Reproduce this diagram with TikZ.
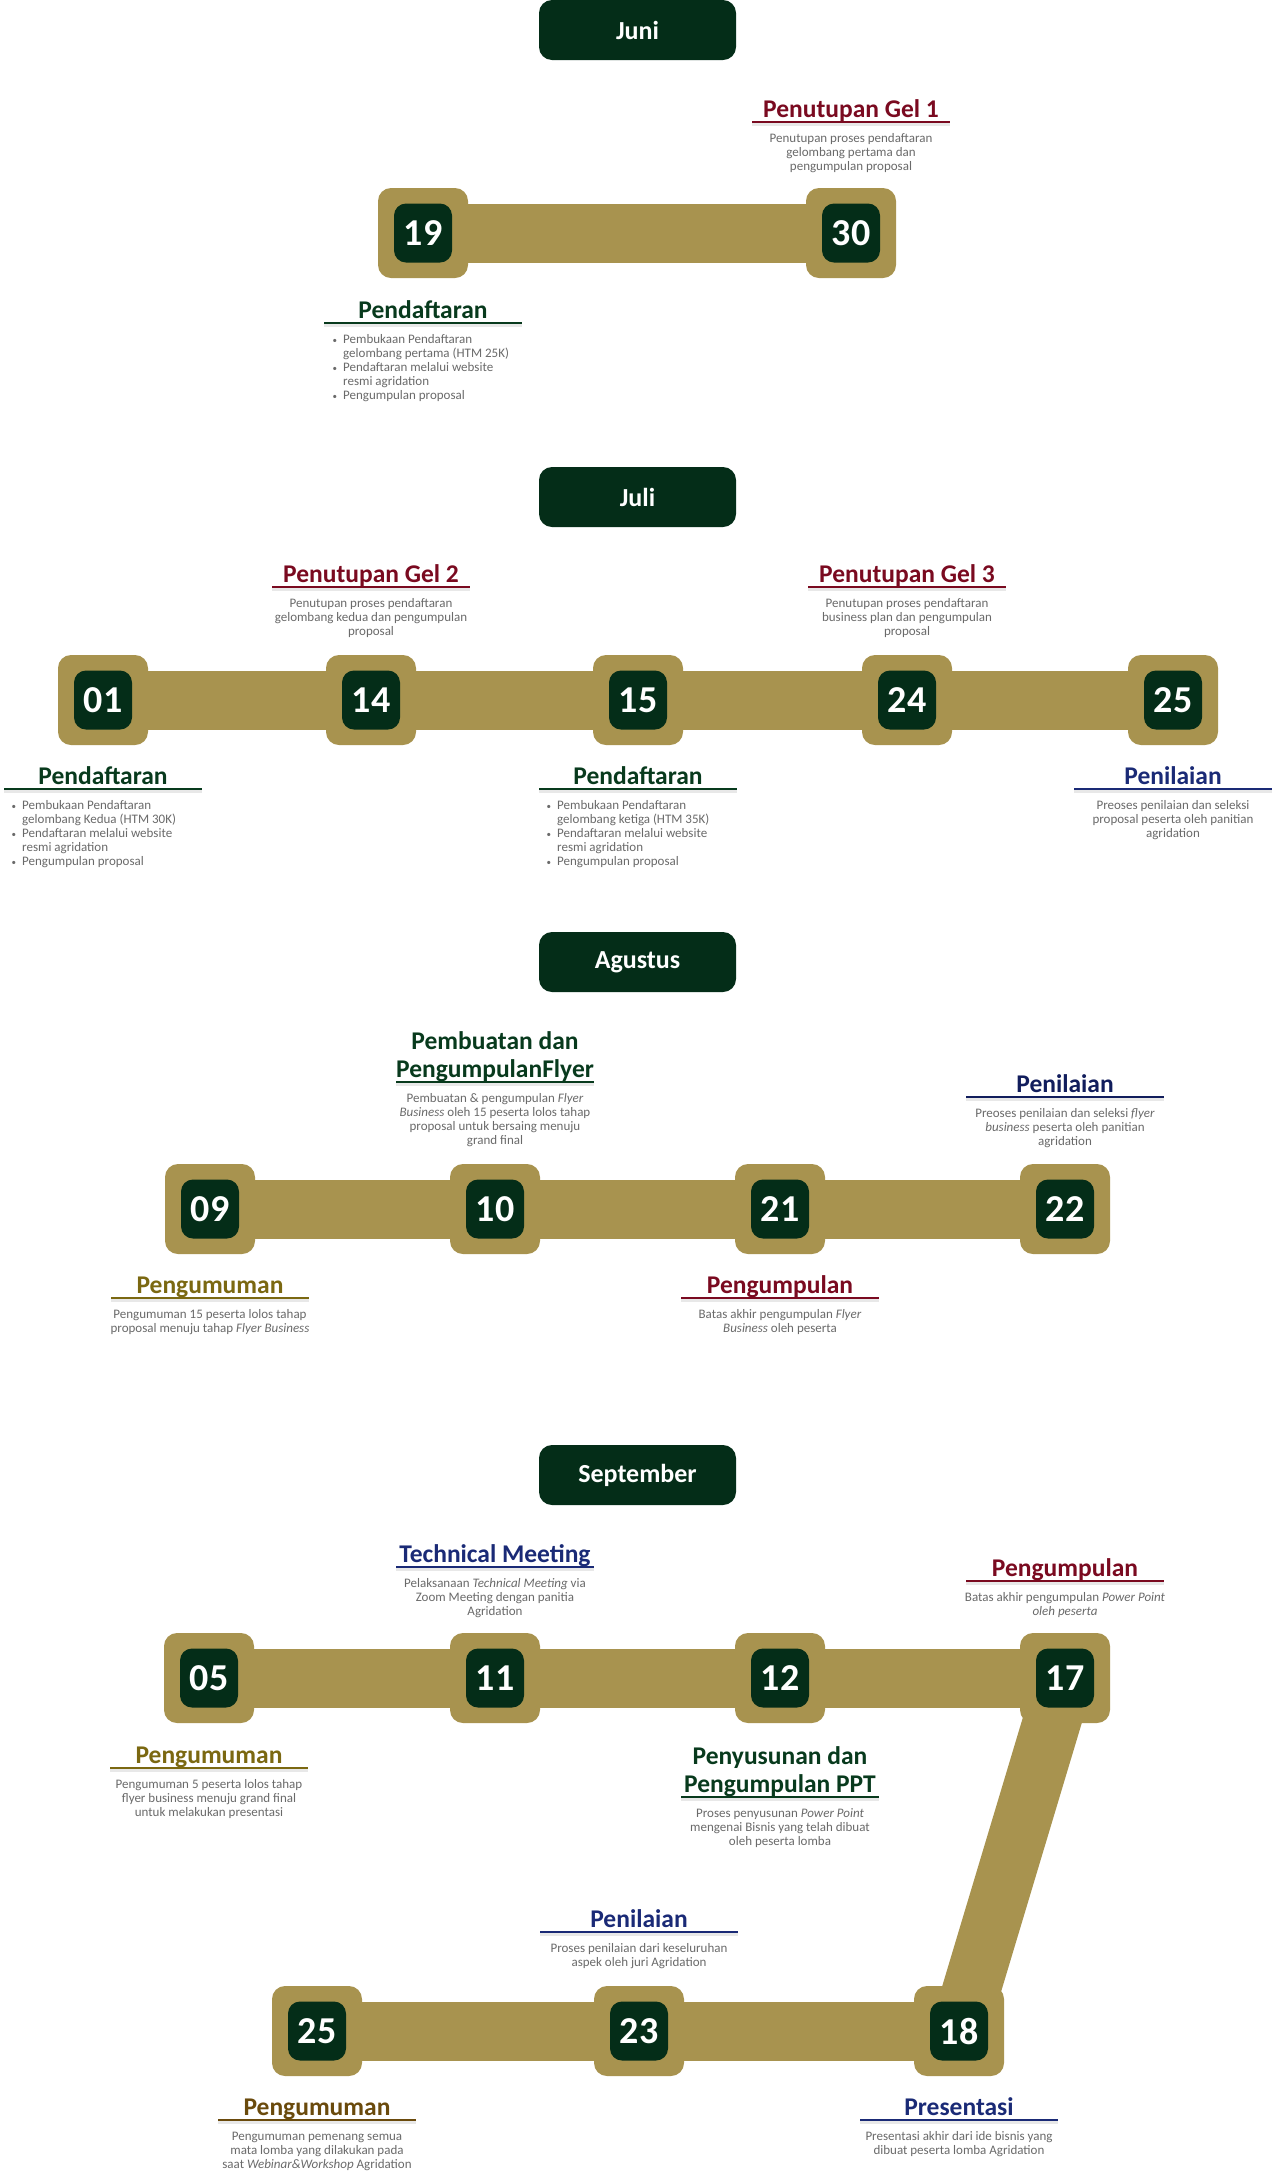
\documentclass[tikz,border=0pt]{standalone}
\usepackage{fontspec}
\setmainfont{Carlito}
\usetikzlibrary{backgrounds}

\definecolor{gold}{HTML}{A8934F}
\definecolor{pine}{HTML}{042D18}
\definecolor{wine}{HTML}{7A0A20}
\definecolor{forest}{HTML}{083A1D}
\definecolor{navy}{HTML}{1A2A76}
\definecolor{deepnavy}{HTML}{111D5C}
\definecolor{olive}{HTML}{7B6811}
\definecolor{bronze}{HTML}{6A4A0C}
\definecolor{desc}{HTML}{6A6A6A}

\tikzset{
  month/.style={fill=pine, rounded corners=13pt, minimum width=197pt, minimum height=60pt,
    inner sep=0pt, text=white, font=\fontsize{26}{26}\selectfont\bfseries},
  goldbox/.style={fill=gold, rounded corners=13pt, minimum width=90pt, minimum height=90pt, inner sep=0pt},
  daybox/.style={fill=pine, rounded corners=12pt, minimum width=58pt, minimum height=59pt,
    inner sep=0pt, text=white, font=\fontsize{38}{38}\selectfont\bfseries},
  bar/.style={draw=gold, line width=59pt},
  % multi-line nodes sit on the baseline of their last line
  title/.style={anchor=base, inner sep=0pt, align=center, font=\fontsize{25.5}{28}\selectfont\bfseries},
  desc/.style={anchor=base, inner sep=0pt, align=center, text=desc, font=\fontsize{13}{14}\selectfont},
  blist/.style={anchor=base west, inner sep=0pt, align=left, text=desc, font=\fontsize{13}{14}\selectfont},
  ul/.style={line width=1.6pt},
  ulshadow/.style={line width=3.5pt, black!9},
}

% gold frame with the dark numbered square on top
\newcommand\daymark[4]{%
  \node[goldbox] (#1) at (#2,#3) {};
  \node[daybox] (#1-num) at (#1.center) {#4};}

% underline below an event title: colour, centre x, y
\newcommand\evline[3]{%
  \draw[ulshadow] (#2-99,#3+2.5) -- (#2+99,#3+2.5);
  \draw[ul,#1] (#2-99,#3) -- (#2+99,#3);}

\newcommand\bul{\leavevmode\llap{{\fontsize{9}{9}\selectfont\textbullet}\hspace{6pt}}}

\begin{document}
\begin{tikzpicture}[x=1pt,y=-1pt]

% ---------- month headings ----------
\node[month] (mJuni) at (637.5,30) {Juni};
\node[month] (mJuli) at (637.5,497) {Juli};
\node[month] (mAgustus) at (637.5,962) {Agustus};
\node[month] (mSeptember) at (637.5,1475) {September};

% ---------- day markers ----------
\daymark{j19}{423}{233}{19}
\daymark{j30}{851}{233}{30}

\daymark{l01}{103}{700}{01}
\daymark{l14}{371}{700}{14}
\daymark{l15}{638}{700}{15}
\daymark{l24}{907}{700}{24}
\daymark{l25}{1173}{700}{25}

\daymark{a09}{210}{1209}{09}
\daymark{a10}{495}{1209}{10}
\daymark{a21}{780}{1209}{21}
\daymark{a22}{1065}{1209}{22}

\daymark{s05}{209}{1678}{05}
\daymark{s11}{495}{1678}{11}
\daymark{s12}{780}{1678}{12}
\daymark{s17}{1065}{1678}{17}
\daymark{s18}{959}{2031}{18}
\daymark{s23}{639}{2031}{23}
\daymark{s25}{317}{2031}{25}

% ---------- connecting bars ----------
\begin{scope}[on background layer]
  \fill[white] (0,0) rectangle (1276,2172);
  \draw[bar] (j19.center) -- (j30.center);
  \draw[bar] (l01.center) -- (l14.center) -- (l15.center) -- (l24.center) -- (l25.center);
  \draw[bar] (a09.center) -- (a10.center) -- (a21.center) -- (a22.center);
  \draw[bar] (s05.center) -- (s11.center) -- (s12.center) -- (s17.center);
  \draw[bar, line width=58pt] (s17.center) -- (s18.center);
  \draw[bar] (s18.center) -- (s23.center) -- (s25.center);
\end{scope}

% ---------- Juni ----------
\node[title, text=wine] (tJ30) at (851,117) {Penutupan Gel 1};
\evline{wine}{851}{122}
\node[desc] (dJ30) at (851,170) {Penutupan proses pendaftaran\\gelombang pertama dan\\pengumpulan proposal};

\node[title, text=forest] (tJ19) at (423,318) {Pendaftaran};
\evline{forest}{423}{323}
\node[blist] (dJ19) at (343,399) {\bul Pembukaan Pendaftaran\\gelombang pertama (HTM 25K)\\\bul Pendaftaran melalui website\\resmi agridation\\\bul Pengumpulan proposal};

% ---------- Juli ----------
\node[title, text=wine] (tL14) at (371,582) {Penutupan Gel 2};
\evline{wine}{371}{587}
\node[desc] (dL14) at (371,635) {Penutupan proses pendaftaran\\gelombang kedua dan pengumpulan\\proposal};

\node[title, text=wine] (tL24) at (907,582) {Penutupan Gel 3};
\evline{wine}{907}{587}
\node[desc] (dL24) at (907,635) {Penutupan proses pendaftaran\\business plan dan pengumpulan\\proposal};

\node[title, text=forest] (tL01) at (103,784) {Pendaftaran};
\evline{forest}{103}{789}
\node[blist] (dL01) at (22,865) {\bul Pembukaan Pendaftaran\\gelombang Kedua (HTM 30K)\\\bul Pendaftaran melalui website\\resmi agridation\\\bul Pengumpulan proposal};

\node[title, text=forest] (tL15) at (638,784) {Pendaftaran};
\evline{forest}{638}{789}
\node[blist] (dL15) at (557,865) {\bul Pembukaan Pendaftaran\\gelombang ketiga (HTM 35K)\\\bul Pendaftaran melalui website\\resmi agridation\\\bul Pengumpulan proposal};

\node[title, text=navy] (tL25) at (1173,784) {Penilaian};
\evline{navy}{1173}{789}
\node[desc] (dL25) at (1173,837) {Preoses penilaian dan seleksi\\proposal peserta oleh panitian\\agridation};

% ---------- Agustus ----------
\node[title, text=forest] (tA10) at (495,1077) {Pembuatan dan\\PengumpulanFlyer};
\evline{forest}{495}{1082}
\node[desc] (dA10) at (495,1144) {Pembuatan \& pengumpulan \textit{Flyer}\\\textit{Business} oleh 15 peserta lolos tahap\\proposal untuk bersaing menuju\\grand final};

\node[title, text=deepnavy] (tA22) at (1065,1092) {Penilaian};
\evline{deepnavy}{1065}{1097}
\node[desc] (dA22) at (1065,1145) {Preoses penilaian dan seleksi \textit{flyer}\\\textit{business} peserta oleh panitian\\agridation};

\node[title, text=olive] (tA09) at (210,1293) {Pengumuman};
\evline{olive}{210}{1298}
\node[desc] (dA09) at (210,1332) {Pengumuman 15 peserta lolos tahap\\proposal menuju tahap \textit{Flyer Business}};

\node[title, text=wine] (tA21) at (780,1293) {Pengumpulan};
\evline{wine}{780}{1298}
\node[desc] (dA21) at (780,1332) {Batas akhir pengumpulan \textit{Flyer}\\\textit{Business} oleh peserta};

% ---------- September ----------
\node[title, text=navy] (tS11) at (495,1562) {Technical Meeting};
\evline{navy}{495}{1567}
\node[desc] (dS11) at (495,1615) {Pelaksanaan \textit{Technical Meeting} via\\Zoom Meeting dengan panitia\\Agridation};

\node[title, text=wine] (tS17) at (1065,1576) {Pengumpulan};
\evline{wine}{1065}{1581}
\node[desc] (dS17) at (1065,1615) {Batas akhir pengumpulan \textit{Power Point}\\\textit{oleh peserta}};

\node[title, text=olive] (tS05) at (209,1763) {Pengumuman};
\evline{olive}{209}{1768}
\node[desc] (dS05) at (209,1816) {Pengumuman 5 peserta lolos tahap\\flyer business menuju grand final\\untuk melakukan presentasi};

\node[title, text=forest] (tS12) at (780,1792) {Penyusunan dan\\Pengumpulan PPT};
\evline{forest}{780}{1797}
\node[desc] (dS12) at (780,1845) {Proses penyusunan \textit{Power Point}\\mengenai Bisnis yang telah dibuat\\oleh peserta lomba};

\node[title, text=navy] (tS23) at (639,1927) {Penilaian};
\evline{navy}{639}{1932}
\node[desc] (dS23) at (639,1966) {Proses penilaian dari keseluruhan\\aspek oleh juri Agridation};

\node[title, text=bronze] (tS25) at (317,2115) {Pengumuman};
\evline{bronze}{317}{2120}
\node[desc] (dS25) at (317,2168) {Pengumuman pemenang semua\\mata lomba yang dilakukan pada\\saat \textit{Webinar\&Workshop} Agridation};

\node[title, text=navy] (tS18) at (959,2115) {Presentasi};
\evline{navy}{959}{2120}
\node[desc] (dS18) at (959,2154) {Presentasi akhir dari ide bisnis yang\\dibuat peserta lomba Agridation};

\end{tikzpicture}
\end{document}
